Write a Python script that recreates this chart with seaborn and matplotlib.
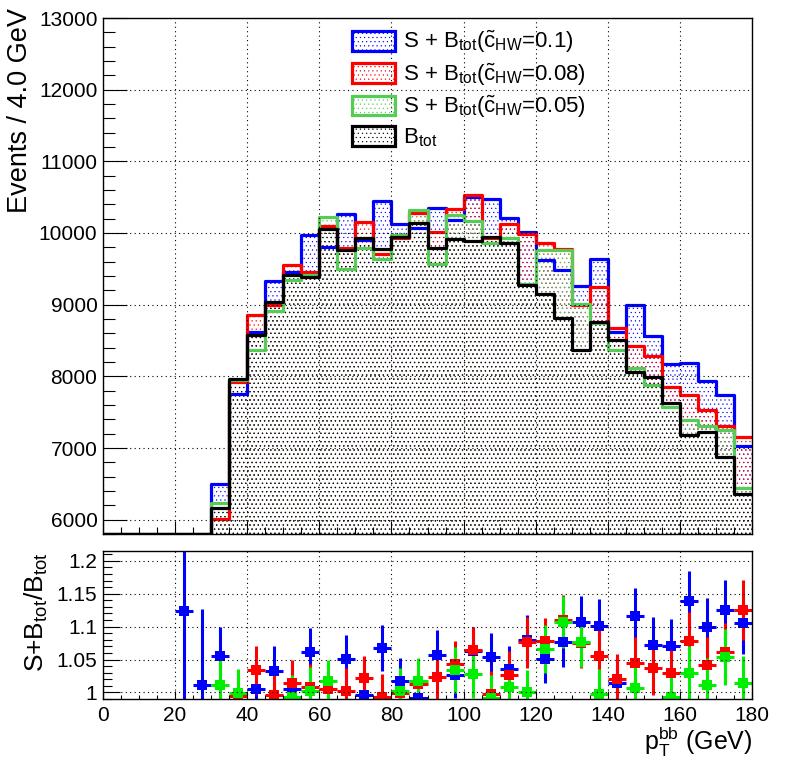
import matplotlib
matplotlib.use('Agg')
import matplotlib.pyplot as plt
from matplotlib.patches import Patch
from matplotlib.ticker import MultipleLocator
import seaborn as sns
import pandas as pd
import numpy as np

# binning: 36 bins of 5 GeV from 0 to 180
bin_width = 5
bin_edges = np.arange(0, 180 + bin_width, bin_width)
bin_centers = bin_edges[:-1] + bin_width / 2

nan = np.nan

# B_tot content per bin
b_tot = [0, 0, 0, 0, 20, 450,
         6160, 7956, 8571, 9036, 9409, 9385, 10052, 9768, 9936, 9782,
         9944, 10145, 9796, 9912, 9884, 9944, 9861, 9278, 9153, 8813,
         8371, 8757, 8501, 8058, 7988, 7625, 7183, 7221, 6880, 6359]

# (S+B_tot)/B_tot ratios
ratio_01 = [nan, nan, nan, nan, 1.124, 1.0116,
            1.0557, 0.975, 1.0055, 1.033, 1.0055, 1.062, 0.976, 1.051, 0.996, 1.068,
            1.0177, 0.992, 1.0567, 1.027, 1.063, 1.054, 1.036, 1.080, 1.051, 1.076,
            1.107, 1.101, 1.014, 1.116, 1.072, 1.071, 1.139, 1.099, 1.1255, 1.105]
ratio_008 = [nan, nan, nan, nan, nan, nan,
             0.976, 0.995, 1.034, 0.996, 1.015, 1.0076, 1.005, 1.0025, 1.0217, 0.993,
             0.999, 1.013, 1.0228, 1.043, 1.065, 0.998, 1.027, 1.076, 1.0775, 1.110,
             1.075, 1.0557, 1.020, 1.0445, 1.037, 1.029, 1.078, 1.042, 1.062, 1.1255]
ratio_005 = [nan, nan, nan, nan, nan, nan,
             1.0116, 0.999, 0.977, 0.987, 0.993, 1.0025, 1.0177, 0.973, 0.985, 0.985,
             1.0025, 1.0177, 0.977, 1.034, 1.028, 0.992, 1.0076, 1.0005, 1.066, 1.107,
             1.076, 0.998, 0.985, 1.0065, 0.987, 0.993, 1.029, 1.0116, 1.0537, 1.014]

err_01 = [nan, nan, nan, nan, 0.16, 0.115,
          0.044, 0.036, 0.035, 0.037, 0.035, 0.036, 0.035, 0.036, 0.035, 0.035,
          0.034, 0.035, 0.038, 0.036, 0.036, 0.036, 0.034, 0.037, 0.037, 0.038,
          0.040, 0.041, 0.040, 0.042, 0.042, 0.040, 0.045, 0.044, 0.046, 0.046]
err_008 = [nan, nan, nan, nan, nan, nan,
           0.040, 0.035, 0.036, 0.035, 0.035, 0.035, 0.034, 0.035, 0.034, 0.035,
           0.034, 0.035, 0.034, 0.035, 0.035, 0.035, 0.036, 0.039, 0.036, 0.038,
           0.038, 0.039, 0.038, 0.040, 0.041, 0.040, 0.045, 0.043, 0.044, 0.046]
err_005 = [nan, nan, nan, nan, nan, nan,
           0.040, 0.036, 0.035, 0.035, 0.033, 0.036, 0.032, 0.035, 0.034, 0.035,
           0.034, 0.034, 0.035, 0.035, 0.036, 0.035, 0.033, 0.033, 0.036, 0.040,
           0.038, 0.038, 0.038, 0.040, 0.040, 0.040, 0.041, 0.041, 0.042, 0.042]

labels = [r'S + B$_{\rm tot}$($\tilde{\rm c}_{\rm HW}$=0.1)',
          r'S + B$_{\rm tot}$($\tilde{\rm c}_{\rm HW}$=0.08)',
          r'S + B$_{\rm tot}$($\tilde{\rm c}_{\rm HW}$=0.05)',
          r'B$_{\rm tot}$']

sns.set_theme(style='white')
plt.rcParams['font.family'] = ['Liberation Sans', 'DejaVu Sans']
plt.rcParams['mathtext.fontset'] = 'custom'
plt.rcParams['mathtext.rm'] = 'Liberation Sans'
plt.rcParams['mathtext.it'] = 'Liberation Sans'
plt.rcParams['mathtext.bf'] = 'Liberation Sans:bold'
plt.rcParams['hatch.linewidth'] = 0.35
plt.rcParams['axes.edgecolor'] = 'black'
plt.rcParams['xtick.color'] = 'black'
plt.rcParams['ytick.color'] = 'black'
plt.rcParams['text.color'] = 'black'

fig = plt.figure(figsize=(7.98, 7.71), dpi=100)
ax = fig.add_axes([103 / 798, 1 - 534 / 771, 649 / 798, 516 / 771])
axr = fig.add_axes([103 / 798, 1 - 699 / 771, 649 / 798, 148 / 771])

y_lo, y_hi = 5800, 13000
r_lo, r_hi = 0.99, 1.215

b = np.array(b_tot, dtype=float)
series = [(np.array(ratio_01), np.array(err_01), 'blue', 'blue'),
          (np.array(ratio_008), np.array(err_008), 'red', 'red'),
          (np.array(ratio_005), np.array(err_005), '#55cc55', '#00ee00')]

hists = [b * np.where(np.isnan(r), 1.0, r) for r, _, _, _ in series] + [b]
colors = [s[2] for s in series] + ['black']

# hatched fills
for h, c in zip(hists, colors):
    hd = np.clip(h, y_lo, None)
    ax.fill_between(bin_edges, np.append(hd, hd[-1]), y_lo - 500, step='post',
                    facecolor='none', edgecolor=c, hatch='....', linewidth=0)
# outlines
for h, c in zip(hists, colors):
    df = pd.DataFrame({'pt': bin_centers, 'w': np.clip(h, y_lo, None)})
    sns.histplot(data=df, x='pt', weights='w', bins=list(bin_edges), element='step',
                 fill=False, color=c, linewidth=2.3, ax=ax)

ax.set_xlim(0, 180)
ax.set_ylim(y_lo, y_hi)
ax.set_xlabel('')
ax.set_ylabel('')
ax.xaxis.set_major_locator(MultipleLocator(20))
ax.xaxis.set_minor_locator(MultipleLocator(5))
ax.yaxis.set_major_locator(MultipleLocator(1000))
ax.yaxis.set_minor_locator(MultipleLocator(200))
ax.tick_params(axis='x', which='both', labelbottom=False, direction='in', bottom=True, top=False)
ax.tick_params(axis='x', which='major', length=9.5, width=0.8)
ax.tick_params(axis='x', which='minor', length=5, width=0.8)
ax.tick_params(axis='y', which='both', direction='in', left=True, right=False, labelsize=15, pad=4)
ax.tick_params(axis='y', which='major', length=17, width=0.8)
ax.tick_params(axis='y', which='minor', length=8.6, width=0.8)
ax.grid(True, which='major', color='black', linestyle=(0, (1, 3)), linewidth=0.8)
ax.set_axisbelow(False)

handles = [Patch(facecolor='none', edgecolor=c, hatch='....', linewidth=2.3) for c in colors]
ax.legend(handles, labels, loc='upper left', bbox_to_anchor=(352 / 798, 1 - 29 / 771),
          bbox_transform=fig.transFigure, frameon=False, fontsize=16,
          handlelength=1.95, handleheight=1.0, handletextpad=0.35,
          labelspacing=0.28, borderpad=0, borderaxespad=0)

# ratio panel
for r, e, _, c in series:
    m = ~np.isnan(r) & (r >= r_lo) & (r <= r_hi)
    axr.errorbar(bin_centers[m], r[m], xerr=bin_width / 2, yerr=e[m], fmt='s',
                 color=c, ms=7, mew=0, elinewidth=2.2, capsize=0)

axr.set_xlim(0, 180)
axr.set_ylim(r_lo, r_hi)
axr.xaxis.set_major_locator(MultipleLocator(20))
axr.xaxis.set_minor_locator(MultipleLocator(5))
axr.yaxis.set_major_locator(MultipleLocator(0.05))
axr.yaxis.set_minor_locator(MultipleLocator(0.01))
axr.set_yticks([1.0, 1.05, 1.1, 1.15, 1.2])
axr.set_yticklabels(['1', '1.05', '1.1', '1.15', '1.2'])
axr.tick_params(axis='x', which='both', direction='in', bottom=True, top=False, labelsize=15, pad=5)
axr.tick_params(axis='x', which='major', length=6, width=0.8)
axr.tick_params(axis='x', which='minor', length=3, width=0.8)
axr.tick_params(axis='y', which='both', direction='in', left=True, right=False, labelsize=15, pad=4)
axr.tick_params(axis='y', which='major', length=12, width=0.8)
axr.tick_params(axis='y', which='minor', length=6.5, width=0.8)
axr.grid(True, which='major', color='black', linestyle=(0, (1, 3)), linewidth=0.8)
axr.set_axisbelow(False)

for a in (ax, axr):
    for s in a.spines.values():
        s.set_linewidth(1.0)
        s.set_color('black')

fig.text(20 / 798, 1 - 8 / 771, 'Events / 4.0 GeV', rotation=90, ha='center', va='top', fontsize=19.5)
fig.text(36 / 798, 1 - 552 / 771, r'S+B$_{\rm tot}$/B$_{\rm tot}$', rotation=90,
         ha='center', va='top', fontsize=19)
fig.text(752 / 798, 1 - 750 / 771, r'p$_{\rm T}^{\rm bb}$ (GeV)', ha='right', va='baseline', fontsize=18)

fig.savefig('out.png', dpi=100)
